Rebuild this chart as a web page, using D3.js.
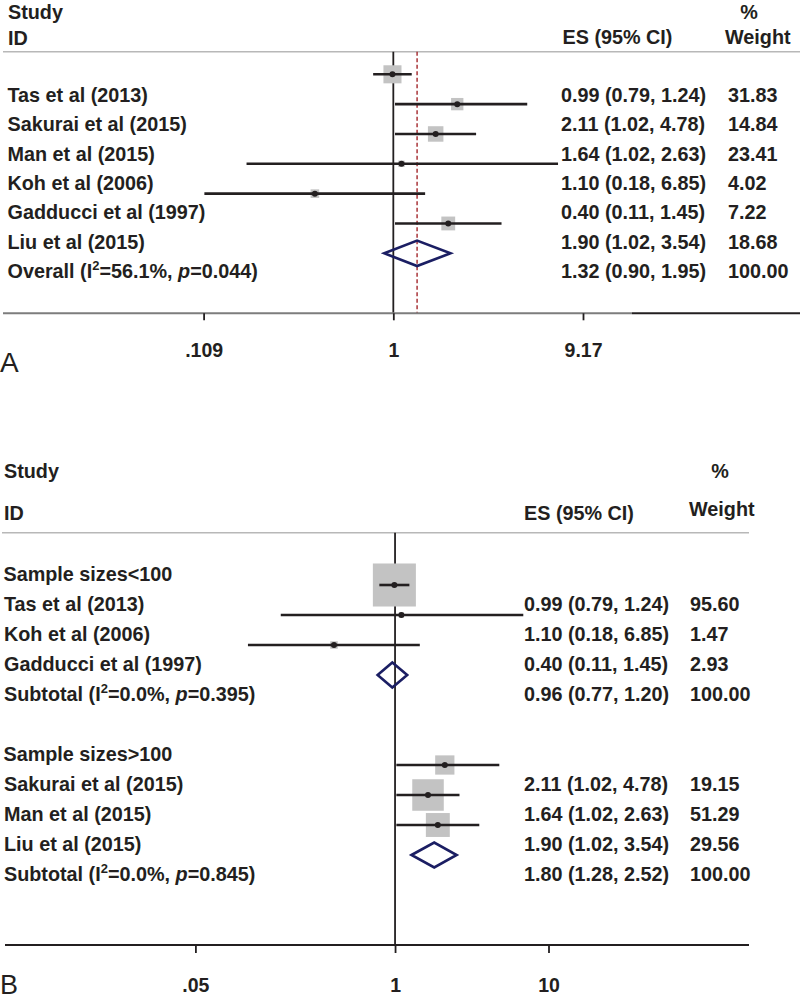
<!DOCTYPE html>
<html>
<head>
<meta charset="utf-8">
<script src="https://cdn.jsdelivr.net/npm/d3@7"></script>
<style>
  html, body { margin: 0; padding: 0; background: #fff; }
  svg { display: block; }
  text { font-family: "Liberation Sans", Arial, Helvetica, sans-serif; fill: #231f20; }
  .b { font-weight: bold; font-size: 19.8px; }
  .tick text { font-size: 19.5px; font-weight: bold; }
</style>
</head>
<body>
<svg id="chart" width="800" height="1001"></svg>
<script>
// ---------------- Panel A data ----------------
const studiesA = ["Tas et al (2013)", "Sakurai et al (2015)", "Man et al (2015)", "Koh et al (2006)", "Gadducci et al (1997)", "Liu et al (2015)"];
const esA      = [0.99, 2.11, 1.64, 1.10, 0.40, 1.90];
const lowA     = [0.79, 1.02, 1.02, 0.18, 0.11, 1.02];
const highA    = [1.24, 4.78, 2.63, 6.85, 1.45, 3.54];
const weightA  = [31.83, 14.84, 23.41, 4.02, 7.22, 18.68];
const overallA = [1.32, 0.90, 1.95, 100.00];   // es, low, high, weight
const overallStatsA = ["56.1%", "0.044"];     // I2, p
const ticksA = [0.109, 1, 9.17];
const tickLabelsA = [".109", "1", "9.17"];

// ---------------- Panel B data ----------------
const groupsB = ["Sample sizes<100", "Sample sizes>100"];
const studiesB1 = ["Tas et al (2013)", "Koh et al (2006)", "Gadducci et al (1997)"];
const esB1      = [0.99, 1.10, 0.40];
const lowB1     = [0.79, 0.18, 0.11];
const highB1    = [1.24, 6.85, 1.45];
const weightB1  = [95.60, 1.47, 2.93];
const subtotalB1 = [0.96, 0.77, 1.20, 100.00];
const subStatsB1 = ["0.0%", "0.395"];
const studiesB2 = ["Sakurai et al (2015)", "Man et al (2015)", "Liu et al (2015)"];
const esB2      = [2.11, 1.64, 1.90];
const lowB2     = [1.02, 1.02, 1.02];
const highB2    = [4.78, 2.63, 3.54];
const weightB2  = [19.15, 51.29, 29.56];
const subtotalB2 = [1.80, 1.28, 2.52, 100.00];
const subStatsB2 = ["0.0%", "0.845"];
const ticksB = [0.05, 1, 10];
const tickLabelsB = [".05", "1", "10"];

const f2 = d3.format(".2f");
const svg = d3.select("#chart");
const INK = "#231f20", BOX = "#c3c3c3", DIA = "#1b1e63", RED = "#a3262b";

function esText(e, l, h) { return `${f2(e)} (${f2(l)}, ${f2(h)})`; }

function statLabel(g, x, y, prefix, i2, p) {
  const t = g.append("text").attr("class", "b").attr("x", x).attr("y", y);
  t.append("tspan").text(prefix + " (I");
  t.append("tspan").attr("dy", -8).style("font-size", "13px").text("2");
  t.append("tspan").attr("dy", 8).text("=" + i2 + ", ");
  t.append("tspan").style("font-style", "italic").text("p");
  t.append("tspan").text("=" + p + ")");
}

function drawRow(g, x, side, r, y) {
  g.append("rect")
    .attr("x", x(r.es) - side(r.w) / 2).attr("y", y - side(r.w) / 2)
    .attr("width", side(r.w)).attr("height", side(r.w))
    .attr("fill", BOX);
  g.append("line")
    .attr("x1", x(r.lo)).attr("x2", x(r.hi)).attr("y1", y).attr("y2", y)
    .attr("stroke", INK).attr("stroke-width", 2.6);
  g.append("circle").attr("cx", x(r.es)).attr("cy", y).attr("r", 3).attr("fill", INK);
}

function drawDiamond(g, x, r, y, hh) {
  const pts = [[x(r.lo), y], [x(r.es), y - hh], [x(r.hi), y], [x(r.es), y + hh]];
  g.append("path").attr("d", d3.line()(pts) + "Z")
    .attr("fill", "none").attr("stroke", DIA).attr("stroke-width", 2.6).attr("stroke-linejoin", "miter");
}

// =============== PANEL A ===============
(function () {
  const g = svg.append("g");
  const x = d3.scaleLog().domain([ticksA[0], ticksA[2]]).range([203.6, 583]);
  const side = d3.scaleSqrt().domain([0, 100]).range([0, 32]);
  const nRows = studiesA.length + 1;
  const labelY = d3.scaleLinear().domain([0, nRows - 1]).range([102, 278]);
  const markY = d3.scaleLinear().domain([0, nRows - 1]).range([74.3, 253.3]);
  const axisY = 313.3, sepY = 51.7;

  g.append("text").attr("class", "b").attr("x", 8).attr("y", 18.5).text("Study");
  g.append("text").attr("class", "b").attr("x", 8).attr("y", 45).text("ID");
  g.append("text").attr("class", "b").attr("x", 562.5).attr("y", 44).text("ES (95% CI)");
  g.append("text").attr("class", "b").attr("x", 749).attr("y", 18.5).attr("text-anchor", "middle").text("%");
  g.append("text").attr("class", "b").attr("x", 725).attr("y", 44).text("Weight");
  g.append("line").attr("x1", 3).attr("x2", 800).attr("y1", sepY).attr("y2", sepY)
    .attr("stroke", "#b8b8b8").attr("stroke-width", 1.6);

  g.append("line").attr("x1", x(1)).attr("x2", x(1)).attr("y1", sepY).attr("y2", axisY)
    .attr("stroke", INK).attr("stroke-width", 1.8);
  g.append("line").attr("x1", x(overallA[0])).attr("x2", x(overallA[0])).attr("y1", sepY).attr("y2", axisY)
    .attr("stroke", RED).attr("stroke-width", 1.4).attr("stroke-dasharray", "4,2.5");

  studiesA.forEach((s, i) => {
    g.append("text").attr("class", "b").attr("x", 7.5).attr("y", labelY(i)).text(s);
    g.append("text").attr("class", "b").attr("x", 561).attr("y", labelY(i)).text(esText(esA[i], lowA[i], highA[i]));
    g.append("text").attr("class", "b").attr("x", 728).attr("y", labelY(i)).text(f2(weightA[i]));
    drawRow(g, x, side, { es: esA[i], lo: lowA[i], hi: highA[i], w: weightA[i] }, markY(i));
  });
  const oi = nRows - 1;
  statLabel(g, 7.5, labelY(oi), "Overall", overallStatsA[0], overallStatsA[1]);
  g.append("text").attr("class", "b").attr("x", 561).attr("y", labelY(oi)).text(esText(overallA[0], overallA[1], overallA[2]));
  g.append("text").attr("class", "b").attr("x", 728).attr("y", labelY(oi)).text(f2(overallA[3]));
  drawDiamond(g, x, { es: overallA[0], lo: overallA[1], hi: overallA[2] }, markY(oi), 12.7);

  g.append("line").attr("x1", 3).attr("x2", 632).attr("y1", axisY).attr("y2", axisY)
    .attr("stroke", "#7d7d7d").attr("stroke-width", 2);
  g.append("line").attr("x1", 632).attr("x2", 800).attr("y1", axisY).attr("y2", axisY)
    .attr("stroke", INK).attr("stroke-width", 2);
  const ax = g.append("g").attr("transform", `translate(0,${axisY})`)
    .call(d3.axisBottom(x).tickValues(ticksA).tickFormat((d, i) => tickLabelsA[i]).tickSize(7).tickPadding(23));
  ax.select(".domain").remove();
  ax.selectAll(".tick line").attr("stroke", INK).attr("stroke-width", 1.8);
  ax.selectAll(".tick text").attr("fill", INK).style("font-family", '"Liberation Sans", Arial, sans-serif');
  g.append("text").attr("x", 0).attr("y", 372).style("font-size", "28px").text("A");
})();

// =============== PANEL B ===============
(function () {
  const g = svg.append("g");
  const x = d3.scaleLog().domain([ticksB[0], ticksB[2]]).range([195.4, 548.5]);
  const side = d3.scaleSqrt().domain([0, 100]).range([0, 44]);
  const labelY = d3.scaleLinear().domain([0, 10]).range([580.7, 880.7]);
  const markY = i => labelY(i) - 25.7;
  const axisY = 945, sepY = 532.7;

  g.append("text").attr("class", "b").attr("x", 4).attr("y", 478).text("Study");
  g.append("text").attr("class", "b").attr("x", 4).attr("y", 520).text("ID");
  g.append("text").attr("class", "b").attr("x", 524).attr("y", 520).text("ES (95% CI)");
  g.append("text").attr("class", "b").attr("x", 720).attr("y", 478).attr("text-anchor", "middle").text("%");
  g.append("text").attr("class", "b").attr("x", 689).attr("y", 515.7).text("Weight");
  g.append("line").attr("x1", 2).attr("x2", 749).attr("y1", sepY).attr("y2", sepY)
    .attr("stroke", "#b8b8b8").attr("stroke-width", 1.6);

  g.append("line").attr("x1", x(1)).attr("x2", x(1)).attr("y1", sepY).attr("y2", axisY)
    .attr("stroke", INK).attr("stroke-width", 1.8);

  const groups = [
    { name: groupsB[0], studies: studiesB1, es: esB1, lo: lowB1, hi: highB1, w: weightB1, sub: subtotalB1, st: subStatsB1 },
    { name: groupsB[1], studies: studiesB2, es: esB2, lo: lowB2, hi: highB2, w: weightB2, sub: subtotalB2, st: subStatsB2 }
  ];
  let row = 0;
  groups.forEach(gr => {
    g.append("text").attr("class", "b").attr("x", 3.5).attr("y", labelY(row)).text(gr.name);
    row++;
    gr.studies.forEach((s, i) => {
      g.append("text").attr("class", "b").attr("x", 4).attr("y", labelY(row)).text(s);
      g.append("text").attr("class", "b").attr("x", 524).attr("y", labelY(row)).text(esText(gr.es[i], gr.lo[i], gr.hi[i]));
      g.append("text").attr("class", "b").attr("x", 690).attr("y", labelY(row)).text(f2(gr.w[i]));
      drawRow(g, x, side, { es: gr.es[i], lo: gr.lo[i], hi: gr.hi[i], w: gr.w[i] }, markY(row));
      row++;
    });
    statLabel(g, 4, labelY(row), "Subtotal", gr.st[0], gr.st[1]);
    g.append("text").attr("class", "b").attr("x", 524).attr("y", labelY(row)).text(esText(gr.sub[0], gr.sub[1], gr.sub[2]));
    g.append("text").attr("class", "b").attr("x", 690).attr("y", labelY(row)).text(f2(gr.sub[3]));
    drawDiamond(g, x, { es: gr.sub[0], lo: gr.sub[1], hi: gr.sub[2] }, markY(row), 12.5);
    row += 2;
  });

  g.append("line").attr("x1", 5).attr("x2", 749).attr("y1", axisY).attr("y2", axisY)
    .attr("stroke", INK).attr("stroke-width", 2);
  const ax = g.append("g").attr("transform", `translate(0,${axisY})`)
    .call(d3.axisBottom(x).tickValues(ticksB).tickFormat((d, i) => tickLabelsB[i]).tickSize(8).tickPadding(25));
  ax.select(".domain").remove();
  ax.selectAll(".tick line").attr("stroke", INK).attr("stroke-width", 1.8);
  ax.selectAll(".tick text").attr("fill", INK).style("font-family", '"Liberation Sans", Arial, sans-serif');
  g.append("text").attr("x", 0).attr("y", 994).style("font-size", "27px").text("B");
})();
</script>
</body>
</html>
